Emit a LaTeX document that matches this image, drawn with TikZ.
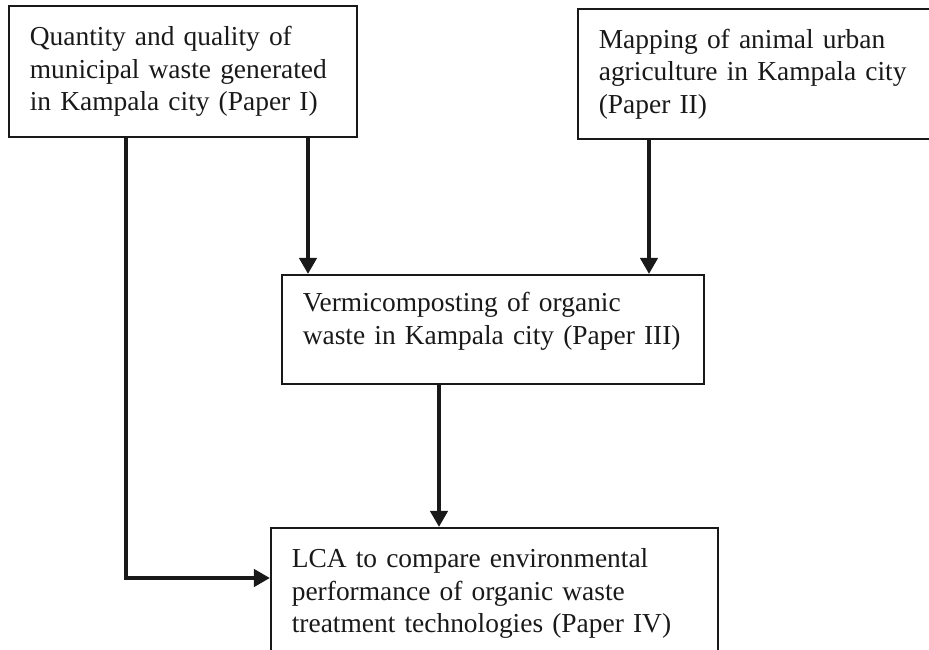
\documentclass[tikz,border=0pt]{standalone}
\usepackage{fontspec}
\setmainfont{Liberation Serif}
\usetikzlibrary{arrows.meta}

\begin{document}
\begin{tikzpicture}
	[
		x=0.412pt, y=-0.412pt,
		paper/.style = {rectangle, anchor=north west, align=left, draw=black!90, line width=0.8pt, fill=none, inner xsep=8.6pt, inner ysep=0pt, text=black!90, font=\fontsize{11.3}{13.4}\selectfont},
		flow/.style = {draw=black!90, line width=1.7pt, -{Triangle[width=7pt,length=6.6pt]}},
	]

	\clip (0,0) rectangle (929,650);

	% papers
	\node[paper, text width=126pt, minimum height=54pt] (p1) 	at (   8,   5 ) {Quantity and quality of\\municipal waste generated\\in Kampala city (Paper I)};
	\node[paper, text width=130pt, minimum height=53.6pt] (p2) 	at ( 577,   8 ) {Mapping of animal urban\\agriculture in Kampala city\\(Paper II)};
	\node[paper, text width=156.7pt, minimum height=44.9pt] (p3) 	at ( 281, 274 ) {Vermicomposting of organic\\waste in Kampala city (Paper III)\par\vspace{6.6pt}};
	\node[paper, text width=167pt, minimum height=54pt] (p4) 	at ( 270, 527 ) {LCA to compare environmental\\performance of organic waste\\treatment technologies (Paper IV)};

	% where the arrows run
	\coordinate (lc) at ( 126, 578 );
	\coordinate (a1) at ( 308,   0 );
	\coordinate (a2) at ( 649,   0 );
	\coordinate (a3) at ( 439,   0 );

	\draw[flow] (p1.south -| lc) |- (p4.west |- lc);
	\foreach \from/\to/\x in {p1/p3/a1,p2/p3/a2,p3/p4/a3}
	\draw[flow] (\from.south -| \x) -- (\to.north -| \x);

	\end{tikzpicture}
\end{document}
